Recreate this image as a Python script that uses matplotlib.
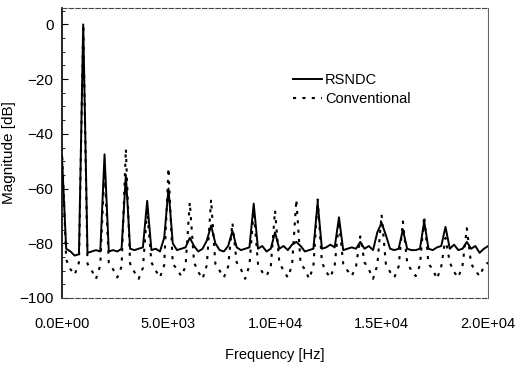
import numpy as np
import matplotlib
matplotlib.use("Agg")
import matplotlib.pyplot as plt
from matplotlib.ticker import MultipleLocator

plt.rcParams['font.family'] = ['Liberation Sans', 'DejaVu Sans']

# frequency grid, 200 Hz steps from 0 to 20 kHz
freq = np.arange(0, 20001, 200)

# RSNDC spectrum [dB]
rsndc = [
    -48, -82, -83, -84.5, -84,
    0, -83.5, -83, -82.5, -83,
    -47.5, -83, -82.5, -83, -82,
    -55, -82, -82.5, -82, -81.5,
    -64.5, -82.5, -82, -83, -78,
    -60, -80, -82.5, -82, -81.5,
    -78, -81, -83, -82, -79,
    -73.5, -80, -82.5, -83, -81,
    -75.5, -81.5, -82.5, -82, -81.5,
    -65.5, -82, -81, -83, -82,
    -76, -82, -81, -82.5, -80.5,
    -79.5, -81, -83, -82.5, -82,
    -65, -82, -81.5, -80.5, -81.5,
    -70.5, -82.5, -82, -81.5, -82,
    -79.5, -82, -81, -82.5, -76,
    -72.5, -77, -82, -82.5, -82,
    -75, -82, -82.5, -82.5, -82,
    -72, -82, -82.5, -81.5, -81,
    -74, -82, -80.5, -82.5, -82,
    -79.5, -82, -81, -83.5, -82,
    -81,
]

# conventional spectrum [dB]
conventional = [
    -45, -86, -89.5, -91.5, -87,
    0, -87.5, -90, -93, -88,
    -52, -87, -89.5, -92.5, -88.5,
    -45.5, -87.5, -90.5, -93, -89,
    -68, -87, -90, -92.5, -88,
    -52.5, -87.5, -89.5, -92, -88.5,
    -65, -87, -90.5, -93, -88,
    -64, -87.5, -90, -92.5, -88.5,
    -72.5, -87, -89.5, -93, -88,
    -68, -87.5, -90.5, -92, -88.5,
    -68, -87, -90, -92.5, -88,
    -64, -87.5, -89.5, -93, -88.5,
    -64, -87, -90.5, -92.5, -88,
    -72, -87.5, -90, -92, -88.5,
    -77.5, -87, -89.5, -93, -88,
    -69.5, -87.5, -90.5, -92.5, -88.5,
    -72, -87, -90, -92, -88,
    -70, -87.5, -89.5, -93, -88.5,
    -78, -87, -90.5, -92.5, -88,
    -74.5, -87.5, -90, -92, -88.5,
    -87,
]

xticks = [0, 5000, 10000, 15000, 20000]
xtick_labels = ['0.0E+00', '5.0E+03', '1.0E+04', '1.5E+04', '2.0E+04']

fig = plt.figure(figsize=(5.16, 3.65), dpi=100)
ax = fig.add_axes([0.120, 0.1836, 0.826, 0.7945])

ax.plot(freq, rsndc, color='black', lw=1.4, ls='-', label='RSNDC')
ax.plot(freq, conventional, color='black', lw=1.5, ls=(0, (1.5, 3)), label='Conventional')

ax.set_xlim(0, 20000)
ax.set_ylim(-100, 6)
ax.set_xticks(xticks)
ax.set_xticklabels(xtick_labels)
ax.set_yticks([0, -20, -40, -60, -80, -100])
ax.yaxis.set_minor_locator(MultipleLocator(5))
ax.tick_params(axis='x', length=0, pad=14, labelsize=10.5)
ax.tick_params(axis='y', which='major', direction='in', length=4, pad=6, labelsize=11)
ax.tick_params(axis='y', which='minor', direction='in', length=2)

ax.set_xlabel('Frequency [Hz]', fontsize=10.5, labelpad=12)
ax.set_ylabel('Magnitude [dB]', fontsize=11, labelpad=2)

for side in ['top', 'bottom']:
    ax.spines[side].set_linestyle((0, (4, 2)))
    ax.spines[side].set_color('#444444')
ax.spines['right'].set_color('#666666')
ax.spines['left'].set_linewidth(1.2)

ax.legend(loc='upper left', bbox_to_anchor=(0.525, 0.80), frameon=False,
          handlelength=2.0, handletextpad=0.2, labelspacing=0.35,
          borderpad=0, fontsize=10.5)

fig.savefig('out.png', dpi=100)
